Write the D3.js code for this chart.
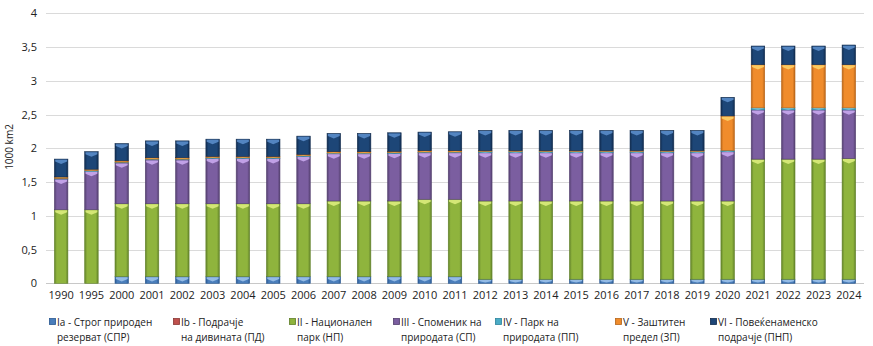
<!DOCTYPE html>
<html>
<head>
<meta charset="utf-8">
<script src="https://cdn.jsdelivr.net/npm/d3@7"></script>
<style>
  body { margin: 0; background: #fff; }
  svg text { font-family: "Open Sans", "Noto Sans", sans-serif; fill: #222; }
</style>
</head>
<body>
<div id="chart"></div>
<script>
//////////////////////////////////////////////////////////////////////////////
// Data: protected area by IUCN category, 1000 km2

var years = ["1990", "1995", "2000", "2001", "2002", "2003", "2004", "2005", "2006",
             "2007", "2008", "2009", "2010", "2011", "2012", "2013", "2014", "2015",
             "2016", "2017", "2018", "2019", "2020", "2021", "2022", "2023", "2024"];

var catIa  = [0, 0, 0.1, 0.1, 0.1, 0.1, 0.1, 0.1, 0.1, 0.1, 0.1, 0.1, 0.1, 0.1,
              0.06, 0.06, 0.06, 0.06, 0.06, 0.06, 0.06, 0.06, 0.06, 0.06, 0.06, 0.06, 0.06];
var catIb  = [0, 0, 0, 0, 0, 0, 0, 0, 0, 0, 0, 0, 0, 0,
              0, 0, 0, 0, 0, 0, 0, 0, 0, 0, 0, 0, 0];
var catII  = [1.09, 1.09, 1.08, 1.08, 1.08, 1.08, 1.08, 1.08, 1.08, 1.12, 1.12, 1.12, 1.145, 1.145,
              1.16, 1.16, 1.16, 1.16, 1.16, 1.16, 1.16, 1.16, 1.16, 1.78, 1.78, 1.78, 1.79];
var catIII = [0.455, 0.57, 0.605, 0.65, 0.65, 0.67, 0.67, 0.67, 0.70, 0.70, 0.70, 0.705, 0.69, 0.69,
              0.715, 0.715, 0.715, 0.715, 0.715, 0.715, 0.715, 0.715, 0.73, 0.73, 0.73, 0.73, 0.72];
var catIV  = [0.01, 0.01, 0.01, 0.01, 0.01, 0.01, 0.01, 0.01, 0.01, 0.01, 0.01, 0.01, 0.01, 0.01,
              0.02, 0.02, 0.02, 0.02, 0.02, 0.02, 0.02, 0.02, 0.02, 0.03, 0.03, 0.03, 0.03];
var catV   = [0.02, 0.02, 0.02, 0.02, 0.02, 0.02, 0.02, 0.02, 0.02, 0.02, 0.02, 0.02, 0.02, 0.02,
              0.01, 0.01, 0.01, 0.01, 0.01, 0.01, 0.01, 0.01, 0.51, 0.64, 0.64, 0.64, 0.64];
var catVI  = [0.265, 0.26, 0.255, 0.25, 0.25, 0.255, 0.255, 0.255, 0.27, 0.27, 0.27, 0.275, 0.275, 0.28,
              0.30, 0.30, 0.30, 0.30, 0.30, 0.30, 0.30, 0.30, 0.275, 0.275, 0.275, 0.275, 0.29];

var seriesKeys = ["Ia", "Ib", "II", "III", "IV", "V", "VI"];
var seriesValues = [catIa, catIb, catII, catIII, catIV, catV, catVI];
var legendLine1 = ["Ia - Строг природен", "Ib - Подрачје", "II - Национален",
                   "III - Споменик на", "IV - Парк на", "V - Заштитен", "VI - Повеќенаменско"];
var legendLine2 = ["резерват (СПР)", "на дивината (ПД)", "парк (НП)",
                   "природата (СП)", "природата (ПП)", "предел (ЗП)", "подрачје (ПНП)"];
var yTicks = [0, 0.5, 1, 1.5, 2, 2.5, 3, 3.5, 4];

// base / light / dark shade per category
var palette = {
    Ia:  ["#4a7ebb", "#9cc2ea", "#2b5a93"],
    Ib:  ["#c0504d", "#e8a9a7", "#8c3836"],
    II:  ["#8fb43d", "#dbec7c", "#62822a"],
    III: ["#7b5ea0", "#c9a8ee", "#54406f"],
    IV:  ["#4bacc6", "#a9e0ee", "#2d869e"],
    V:   ["#f08c2c", "#fcd067", "#b9661a"],
    VI:  ["#1d4677", "#5a8cc9", "#112c4f"]
};

//////////////////////////////////////////////////////////////////////////////

var width = 873, height = 346;
var plotLeft = 46, plotRight = 864, plotTop = 13.3, plotBottom = 283.3;

var rows = years.map(function(y, i) {
    var r = { year: y };
    seriesKeys.forEach(function(k, j) { r[k] = seriesValues[j][i]; });
    return r;
});

var stacked = d3.stack().keys(seriesKeys)(rows);

var xScale = d3.scaleBand().domain(years).range([plotLeft, plotRight]).paddingInner(0.555).paddingOuter(0.2775);
var yScale = d3.scaleLinear().domain([0, 4]).range([plotBottom, plotTop]);

var svg = d3.select("#chart")
    .append("svg")
    .attr("width", width)
    .attr("height", height);

// horizontal shading for the bevelled bar look
var defs = svg.append("defs");
seriesKeys.forEach(function(k) {
    var c = palette[k];
    var g = defs.append("linearGradient")
        .attr("id", "grad-" + k)
        .attr("x1", 0).attr("x2", 1).attr("y1", 0).attr("y2", 0);
    g.append("stop").attr("offset", "0%").attr("stop-color", c[2]);
    g.append("stop").attr("offset", "18%").attr("stop-color", c[0]);
    g.append("stop").attr("offset", "82%").attr("stop-color", c[0]);
    g.append("stop").attr("offset", "100%").attr("stop-color", c[2]);
});

// gridlines
svg.append("g")
    .selectAll("line")
    .data(yTicks)
    .enter()
    .append("line")
    .attr("x1", plotLeft)
    .attr("x2", plotRight)
    .attr("y1", function(d) { return Math.round(yScale(d)) + 0.5; })
    .attr("y2", function(d) { return Math.round(yScale(d)) + 0.5; })
    .attr("stroke", function(d) { return d === 0 ? "#c8c8c8" : "#dadada"; })
    .attr("stroke-width", 1);

// y axis labels
var yAxis = d3.axisLeft(yScale)
    .tickValues(yTicks)
    .tickSize(0)
    .tickPadding(0)
    .tickFormat(function(d) { return String(d).replace(".", ","); });

svg.append("g")
    .attr("transform", "translate(37,0)")
    .call(yAxis)
    .call(function(g) { g.select(".domain").remove(); })
    .selectAll("text")
    .attr("font-size", 11)
    .attr("font-family", "Open Sans, sans-serif")
    .attr("fill", "#222");

svg.append("text")
    .attr("transform", "translate(13,147) rotate(-90)")
    .attr("text-anchor", "middle")
    .attr("font-size", 10)
    .text("1000 km2");

// x axis labels
var xAxis = d3.axisBottom(xScale).tickSize(0).tickPadding(0);
svg.append("g")
    .attr("transform", "translate(0," + (plotBottom + 8) + ")")
    .call(xAxis)
    .call(function(g) { g.select(".domain").remove(); })
    .selectAll("text")
    .attr("font-size", 11)
    .attr("font-family", "Open Sans, sans-serif")
    .attr("fill", "#222");

// stacked bars
var layers = svg.append("g")
    .selectAll("g")
    .data(stacked)
    .enter()
    .append("g");

var segs = layers.selectAll("g")
    .data(function(s) { return s.map(function(d) { d.key = s.key; return d; }); })
    .enter()
    .filter(function(d) { return d[1] - d[0] > 0; })
    .append("g");

segs.append("rect")
    .attr("x", function(d) { return xScale(d.data.year); })
    .attr("y", function(d) { return yScale(d[1]); })
    .attr("width", xScale.bandwidth())
    .attr("height", function(d) { return yScale(d[0]) - yScale(d[1]); })
    .attr("fill", function(d) { return "url(#grad-" + d.key + ")"; })
    .attr("stroke", function(d) { return palette[d.key][2]; })
    .attr("stroke-width", 0.6);

// light chevron along the top of each segment
segs.append("path")
    .attr("d", function(d) {
        var x = xScale(d.data.year), w = xScale.bandwidth();
        var y = yScale(d[1]), h = yScale(d[0]) - y;
        var a = Math.min(2.5, h * 0.5), b = Math.min(5, h * 0.8);
        return "M" + (x + 0.8) + "," + (y + 0.6) +
               "L" + (x + w - 0.8) + "," + (y + 0.6) +
               "L" + (x + w - 0.8) + "," + (y + a) +
               "L" + (x + w / 2) + "," + (y + b) +
               "L" + (x + 0.8) + "," + (y + a) + "Z";
    })
    .attr("fill", function(d) { return palette[d.key][1]; })
    .attr("opacity", 0.9);

// legend
var legendX = [49, 173, 289, 393, 495, 615, 710];
var legend = svg.append("g")
    .selectAll("g")
    .data(seriesKeys)
    .enter()
    .append("g")
    .attr("transform", function(d, i) { return "translate(" + legendX[i] + ",0)"; });

legend.append("rect")
    .attr("x", 0.5)
    .attr("y", 318.5)
    .attr("width", 6)
    .attr("height", 6)
    .attr("fill", function(d) { return "url(#grad-" + d + ")"; })
    .attr("stroke", function(d) { return palette[d][2]; })
    .attr("stroke-width", 0.8);

legend.append("text")
    .attr("x", 8)
    .attr("y", 325.5)
    .attr("font-size", 10)
    .text(function(d, i) { return legendLine1[i]; });

legend.append("text")
    .attr("x", 8)
    .attr("y", 341)
    .attr("font-size", 10)
    .text(function(d, i) { return legendLine2[i]; });
</script>
</body>
</html>
